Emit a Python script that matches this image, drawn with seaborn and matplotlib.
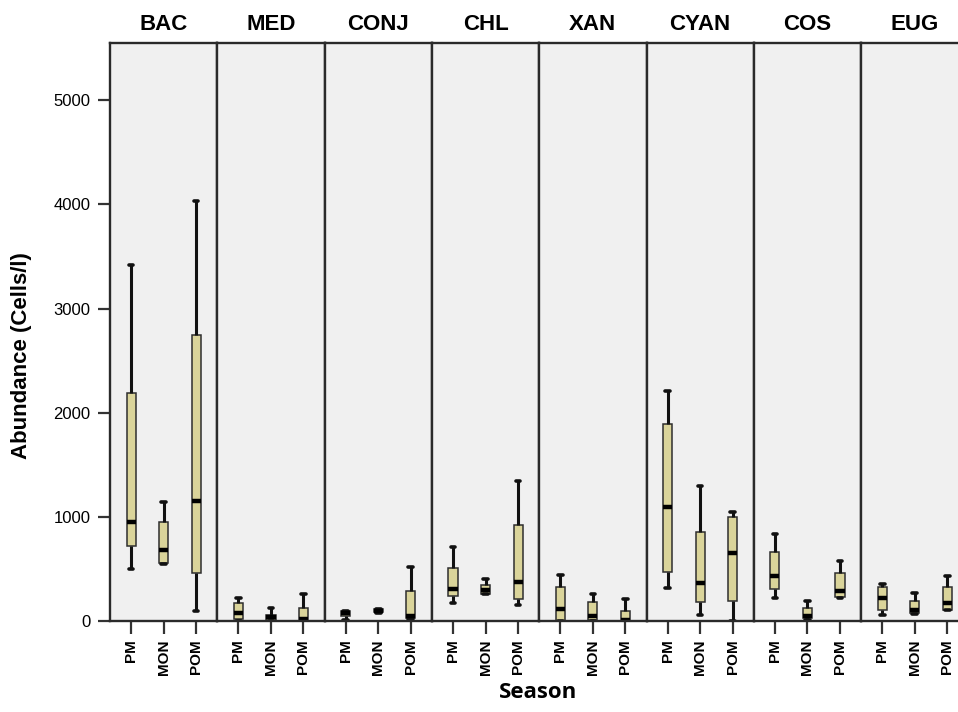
import numpy as np
import pandas as pd
import matplotlib
matplotlib.use("Agg")
import matplotlib.pyplot as plt
import seaborn as sns

# ---- data: min, q1, median, q3, max per group/season ----
groups = ["BAC", "MED", "CONJ", "CHL", "XAN", "CYAN", "COS", "EUG"]
seasons = ["PM", "MON", "POM"]

BAC  = [[500, 720, 950, 2185, 3420], [545, 557, 685, 955, 1142], [99, 464, 1150, 2750, 4030]]
MED  = [[0, 15, 74, 170, 218], [0, 5, 35, 60, 128], [0, 0, 15, 125, 256]]
CONJ = [[10, 50, 75, 97, 100], [80, 85, 100, 112, 115], [20, 32, 48, 285, 515]]
CHL  = [[170, 240, 304, 512, 710], [260, 262, 298, 345, 403], [154, 208, 377, 921, 1340]]
XAN  = [[0, 0, 112, 329, 441], [0, 5, 48, 179, 256], [0, 0, 10, 99, 208]]
CYAN = [[314, 467, 1094, 1894, 2207], [60, 182, 362, 854, 1296], [0, 189, 655, 995, 1046]]
COS  = [[224, 307, 435, 659, 835], [10, 26, 51, 125, 195], [224, 226, 291, 464, 576]]
EUG  = [[61, 106, 224, 326, 358], [70, 74, 106, 195, 272], [106, 108, 170, 326, 432]]
stats = [BAC, MED, CONJ, CHL, XAN, CYAN, COS, EUG]

yticks = [0, 1000, 2000, 3000, 4000, 5000]

rows = []
for g, st in zip(groups, stats):
    for s, five in zip(seasons, st):
        for v in five:
            rows.append({"group": g, "season": s, "value": v})
df = pd.DataFrame(rows)

sns.set_theme(style="white")
plt.rcParams["font.family"] = ["Liberation Sans", "DejaVu Sans"]
plt.rcParams["text.color"] = "black"
plt.rcParams["xtick.color"] = "black"
plt.rcParams["ytick.color"] = "black"

W, H = 958, 712
fig = plt.figure(figsize=(W / 100, H / 100), dpi=100)

left_px, top_px, bot_px = 110, 43, 621
panel_w = 107.3
box_color = "#DAD49A"

axes = []
for i, g in enumerate(groups):
    rect = [(left_px + i * panel_w) / W, 1 - bot_px / H, panel_w / W, (bot_px - top_px) / H]
    ax = fig.add_axes(rect, sharey=axes[0] if axes else None)
    axes.append(ax)
    sub = df[df["group"] == g]
    sns.boxplot(
        data=sub, x="season", y="value", order=seasons, ax=ax,
        whis=(0, 100), width=0.28, color=box_color, linecolor="#222222",
        showfliers=False, saturation=1,
        boxprops=dict(linewidth=1.1, edgecolor="#2e2e2e"),
        whiskerprops=dict(linewidth=2.2, color="#111111"),
        capprops=dict(linewidth=2.6, color="#111111"),
        medianprops=dict(linewidth=3.2, color="#000000"),
    )
    ax.set_facecolor("#F0F0F0")
    ax.set_xlim(-0.65, 2.65)
    ax.set_ylim(0, 5550)
    ax.set_xlabel("")
    ax.set_ylabel("")
    ax.set_title(g, fontsize=16, fontweight="bold", pad=9, color="black")
    for sp in ax.spines.values():
        sp.set_visible(True)
        sp.set_color("#2a2a2a")
        sp.set_linewidth(1.7)
    ax.tick_params(axis="x", which="both", bottom=True, length=9, width=1.6,
                   color="#333333", pad=4, labelsize=11, labelrotation=90,
                   labelcolor="black")
    for lab in ax.get_xticklabels():
        lab.set_fontweight("bold")
    if i == 0:
        ax.set_yticks(yticks)
        ax.tick_params(axis="y", left=True, length=9, width=1.6, color="#333333",
                       pad=5, labelsize=12, labelcolor="black")
    else:
        ax.tick_params(axis="y", left=False, labelleft=False)

fig.text(22 / W, 1 - 356 / H, "Abundance (Cells/l)", rotation=90, fontsize=16,
         fontweight="bold", ha="center", va="center")
fig.text(538 / W, 1 - 693 / H, "Season", fontsize=16, fontweight="bold",
         ha="center", va="center", family=["Open Sans", "DejaVu Sans"])

fig.savefig("out.png", dpi=100)
